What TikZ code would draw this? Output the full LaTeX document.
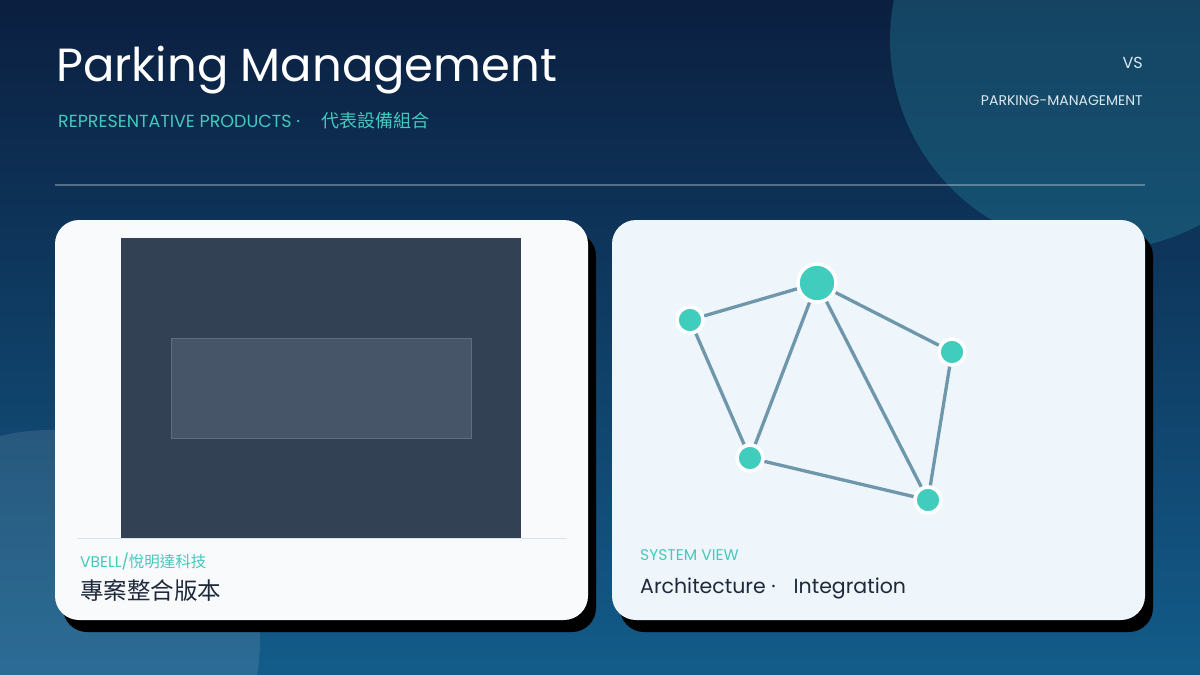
\documentclass[tikz,border=0pt]{standalone}
\usepackage{fontspec}
\setmainfont{Poppins}
\newfontfamily\cjk{Noto Sans CJK TC}
\pgfdeclarelayer{back}
\pgfdeclarelayer{mid}
\pgfsetlayers{back,mid,main}
\definecolor{bgtop}{HTML}{0B1F40}
\definecolor{bgbot}{HTML}{135C8A}
\definecolor{teal}{HTML}{45C9BC}
\definecolor{nodeteal}{HTML}{40CDBD}
\definecolor{edgec}{HTML}{6E97AB}
\definecolor{cardL}{HTML}{F8FAFC}
\definecolor{cardR}{HTML}{EEF6FB}
\definecolor{screen}{HTML}{334155}
\definecolor{inner}{HTML}{475569}
\definecolor{innerb}{HTML}{5D6D82}
\definecolor{sepline}{HTML}{DBE3EA}
\definecolor{darktext}{HTML}{1E293B}
\definecolor{lighttext}{HTML}{DCE8F0}
\tikzset{
  card/.style={rounded corners=24pt},
  shadowbox/.style={card, fill=black},
  gnode/.style={circle, fill=nodeteal, draw=white, line width=3.5pt, inner sep=0pt},
  gedge/.style={draw=edgec, line width=3.3pt},
  txt/.style={inner sep=0pt, anchor=base west},
}
\begin{document}
\begin{tikzpicture}[x=1pt,y=-1pt]
\useasboundingbox (0,0) rectangle (1200,675);
\begin{pgfonlayer}{back}
% background gradient
\shade[top color=bgtop, bottom color=bgbot] (0,0) rectangle (1200,675);
% decorative circles
\begin{scope}
\clip (0,0) rectangle (1200,675);
\fill[teal!35!bgbot, fill opacity=0.38] (1100,40) circle[radius=210];
\fill[white, fill opacity=0.10] (50,640) circle[radius=210];
\end{scope}
% divider
\draw[white, opacity=0.3, line width=1.5pt] (55,185) coordinate (d1) -- (1145,185) coordinate (d2);
% left card
\fill[shadowbox] (63,232) rectangle (596,632);
\fill[card, cardL] (55,220) rectangle (588,620);
\fill[screen] (121,238) rectangle (521,538);
\draw[innerb, fill=inner, line width=1pt] (171,338) rectangle (471,438);
\draw[sepline, line width=1.5pt] (77,538.5) coordinate (s1) -- (567,538.5) coordinate (s2);
% right card
\fill[shadowbox] (620,232) rectangle (1153,632);
\fill[card, cardR] (612,220) rectangle (1145,620);
\end{pgfonlayer}
% title
\node[txt, text=white, font=\fontsize{46.5}{52}\selectfont] (title) at (56,81) {Parking Management};
\node[txt, text=teal, font=\fontsize{17.5}{21}\selectfont] (sub) at (58,127) {REPRESENTATIVE PRODUCTS ·\hspace{22pt}{\cjk\fontsize{18}{21}\selectfont 代表設備組合}};
\node[inner sep=0pt, anchor=base east, text=lighttext, font=\fontsize{16}{20}\selectfont] (vs) at (1143,68) {VS};
\node[inner sep=0pt, anchor=base east, text=lighttext, font=\fontsize{14}{16}\selectfont] (pm) at (1143,105) {PARKING-MANAGEMENT};
\node[txt, text=teal, font=\fontsize{15.5}{18}\selectfont] (brand) at (80,567) {VBELL/{\cjk 悅明達科技}};
\node[txt, text=darktext, font=\cjk\fontsize{23.5}{27}\selectfont] (prod) at (80,599) {專案整合版本};
\node[txt, text=teal, font=\fontsize{15.5}{18}\selectfont] (sv) at (640,560) {SYSTEM VIEW};
\node[txt, text=darktext, font=\fontsize{20.5}{24}\selectfont] (ai) at (640,593) {Architecture ·\hspace{18pt}Integration};
% graph
\node[gnode, minimum size=26pt] (A) at (690,320) {};
\node[gnode, minimum size=38pt] (B) at (817,283) {};
\node[gnode, minimum size=26pt] (C) at (952,352) {};
\node[gnode, minimum size=26pt] (D) at (750,458) {};
\node[gnode, minimum size=26pt] (E) at (928,500) {};
\begin{pgfonlayer}{mid}
\path[gedge] (A) -- (B) (A) -- (D) (B) -- (D) (B) -- (E) (B) -- (C) (C) -- (E) (D) -- (E);
\end{pgfonlayer}
\end{tikzpicture}
\end{document}
